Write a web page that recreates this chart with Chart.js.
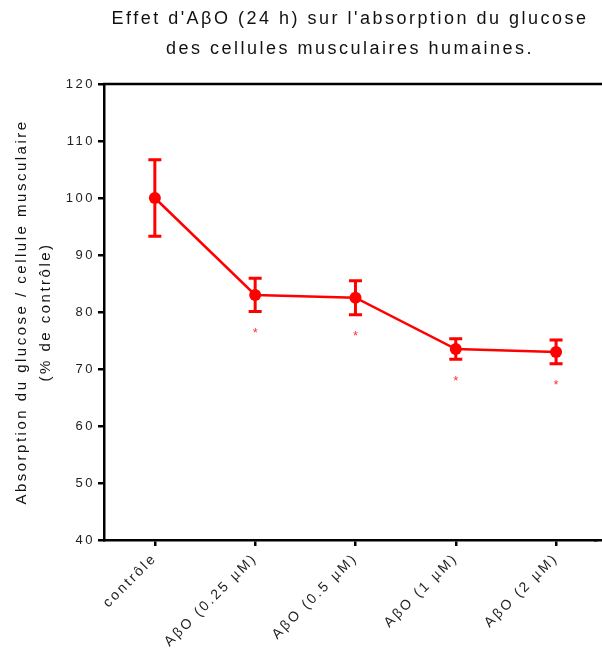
<!DOCTYPE html>
<html>
<head>
<meta charset="utf-8">
<script src="https://cdn.jsdelivr.net/npm/chart.js@4.4.1/dist/chart.umd.min.js"></script>
<style>
  html, body { margin: 0; padding: 0; background: #fff; }
  #wrap { width: 602px; height: 651px; }
</style>
</head>
<body>
<div id="wrap"><canvas id="chart"></canvas></div>
<script>
// glucose uptake, % of control, mean and error half-width per condition
const categories = ["contrôle", "AβO (0.25 µM)", "AβO (0.5 µM)", "AβO (1 µM)", "AβO (2 µM)"];
const means = [100, 83.0, 82.5, 73.5, 73.0];
const errors = [6.7, 2.9, 3.0, 1.8, 2.1];
const significant = [false, true, true, true, true];
const yTicks = [40, 50, 60, 70, 80, 90, 100, 110, 120];

const RED = "#ff0000";
const FONT = "'Liberation Sans', Arial, sans-serif";
const SPACING = "2.5px";

// canvas letter spacing is lost whenever the canvas is resized, so set it again
const spacingPlugin = {
  id: "spacing",
  beforeLayout(chart) { chart.ctx.letterSpacing = SPACING; },
  beforeDraw(chart) { chart.ctx.letterSpacing = SPACING; },
};

// error bars, frame lines and significance stars
const extrasPlugin = {
  id: "extras",
  afterDraw(chart) {
    const ctx = chart.ctx;
    const x = chart.scales.x;
    const y = chart.scales.y;
    const area = chart.chartArea;

    ctx.save();
    ctx.strokeStyle = "#000";
    ctx.lineWidth = 2.5;
    ctx.beginPath();
    ctx.moveTo(area.left - 1, area.top);
    ctx.lineTo(chart.width, area.top);
    // the bottom axis line runs on to the right edge (same pixel snapping as the border)
    const axisY = Math.round(x.top - 1.25) + 1.25;
    ctx.moveTo(area.right - 2, axisY);
    ctx.lineTo(chart.width, axisY);
    ctx.stroke();

    ctx.strokeStyle = RED;
    ctx.lineWidth = 3;
    means.forEach((m, i) => {
      const px = x.getPixelForValue(i);
      const top = y.getPixelForValue(m + errors[i]);
      const bot = y.getPixelForValue(m - errors[i]);
      ctx.beginPath();
      ctx.moveTo(px, top);
      ctx.lineTo(px, bot);
      ctx.moveTo(px - 6.5, top);
      ctx.lineTo(px + 6.5, top);
      ctx.moveTo(px - 6.5, bot);
      ctx.lineTo(px + 6.5, bot);
      ctx.stroke();

      if (significant[i]) {
        ctx.fillStyle = "#ff3333";
        ctx.font = "13px " + FONT;
        ctx.letterSpacing = "0px";
        ctx.textAlign = "center";
        ctx.textBaseline = "middle";
        ctx.fillText("*", px, bot + 22);
      }
    });
    ctx.restore();
  },
};

const ctx = document.getElementById("chart").getContext("2d");

const chart = new Chart(ctx, {
  type: "line",
  data: {
    datasets: [
      {
        data: means.map((m, i) => ({ x: i, y: m })),
        borderColor: RED,
        backgroundColor: RED,
        borderWidth: 2.5,
        pointRadius: 6,
        pointHoverRadius: 6,
        pointBorderWidth: 0,
        tension: 0,
      },
    ],
  },
  options: {
    responsive: true,
    maintainAspectRatio: false,
    animation: false,
    layout: { padding: 0 },
    plugins: {
      legend: { display: false },
      tooltip: { enabled: false },
      title: {
        display: true,
        fullSize: false,
        text: ["Effet d'AβO (24 h) sur l'absorption du glucose", "des cellules musculaires humaines."],
        color: "#111",
        font: { family: FONT, size: 18, weight: "normal", lineHeight: 30 / 18 },
        padding: { top: 4, bottom: 20 },
        align: "center",
      },
    },
    scales: {
      x: {
        type: "linear",
        min: -0.507,
        max: 4.398,
        afterBuildTicks(scale) {
          scale.ticks = categories.map((c, i) => ({ value: i }));
        },
        afterFit(scale) { scale.height = 111; },
        grid: {
          display: true,
          drawOnChartArea: false,
          drawTicks: true,
          tickLength: 6,
          color: "#000",
          lineWidth: 2.5,
        },
        border: { display: true, color: "#000", width: 2.5 },
        ticks: {
          autoSkip: false,
          minRotation: 45,
          maxRotation: 45,
          padding: 4,
          color: "#222",
          font: { family: FONT, size: 14 },
          callback: (v) => categories[v],
        },
      },
      y: {
        min: 40,
        max: 120,
        afterBuildTicks(scale) {
          scale.ticks = yTicks.map((v) => ({ value: v }));
        },
        afterFit(scale) { scale.width = 104; },
        grid: {
          display: true,
          drawOnChartArea: false,
          drawTicks: true,
          tickLength: 6,
          color: "#000",
          lineWidth: 2.5,
        },
        border: { display: true, color: "#000", width: 2.5 },
        ticks: {
          padding: 3,
          color: "#222",
          font: { family: FONT, size: 13 },
        },
        title: {
          display: true,
          text: ["Absorption du glucose / cellule musculaire", "(% de contrôle)"],
          color: "#111",
          font: { family: FONT, size: 15, lineHeight: 24 / 15 },
          padding: { top: 10, bottom: 0 },
        },
      },
    },
  },
  plugins: [spacingPlugin, extrasPlugin],
});
</script>
</body>
</html>
